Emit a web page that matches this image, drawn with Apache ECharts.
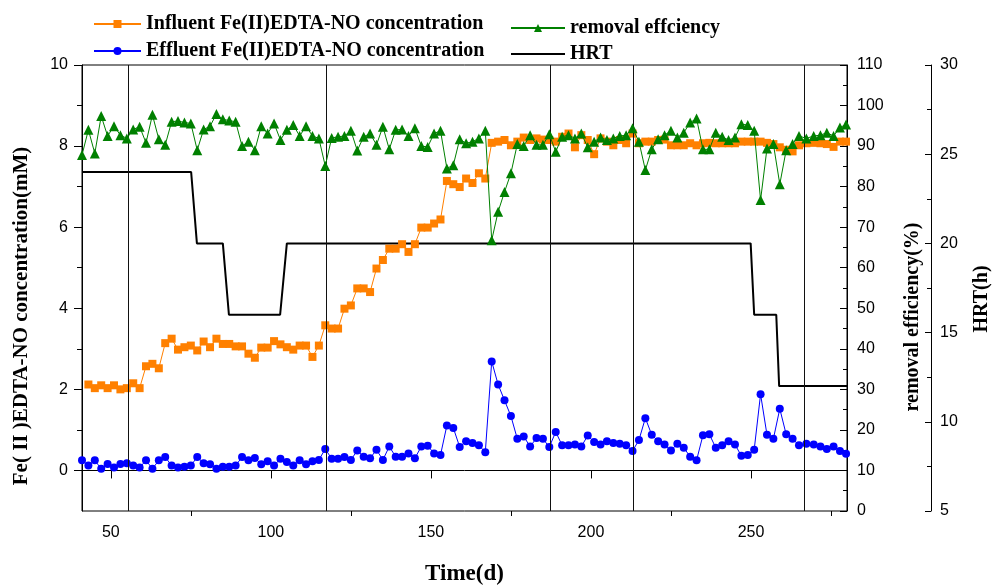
<!DOCTYPE html>
<html><head><meta charset="utf-8">
<script src="https://cdn.jsdelivr.net/npm/echarts@6/dist/echarts.min.js"></script>
<style>html,body{margin:0;padding:0;background:#fff}#c{width:992px;height:585px}</style>
</head><body><div id="c"></div>
<script>
const days = [41,43,45,47,49,51,53,55,57,59,
61,63,65,67,69,71,73,75,77,79,
81,83,85,87,89,91,93,95,97,99,
101,103,105,107,109,111,113,115,117,119,
121,123,125,127,129,131,133,135,137,139,
141,143,145,147,149,151,153,155,157,159,
161,163,165,167,169,171,173,175,177,179,
181,183,185,187,189,191,193,195,197,199,
201,203,205,207,209,211,213,215,217,219,
221,223,225,227,229,231,233,235,237,239,
241,243,245,247,249,251,253,255,257,259,
261,263,265,267.3,269.6,271.7,273.7,275.8,277.8,279.7];
const influent = [null,2.12,2.03,2.10,2.03,2.10,2.00,2.03,2.15,2.03,
2.57,2.63,2.52,3.14,3.25,2.98,3.04,3.08,2.96,3.18,
3.04,3.25,3.12,3.12,3.06,3.06,2.88,2.78,3.03,3.03,
3.19,3.11,3.04,2.98,3.08,3.08,2.80,3.08,3.58,3.50,
3.50,3.99,4.07,4.49,4.49,4.40,4.98,5.19,5.47,5.47,
5.58,5.39,5.58,5.99,5.99,6.09,6.19,7.14,7.06,6.99,
7.20,7.09,7.33,7.20,8.08,8.11,8.15,8.02,8.11,8.21,
8.15,8.19,8.16,8.15,8.11,8.23,8.31,7.97,8.27,8.15,
7.80,8.19,8.11,8.02,8.15,8.07,8.31,8.07,8.11,8.11,
8.15,8.16,8.02,8.02,8.02,8.07,8.02,8.07,8.08,8.07,
8.07,8.07,8.07,8.11,8.11,8.11,8.11,8.08,8.05,7.97,
7.91,7.87,8.02,8.07,8.08,8.07,8.05,7.98,8.11,8.11];
const effluent = [0.25,0.12,0.25,0.04,0.16,0.07,0.16,0.18,0.12,0.07,
0.25,0.04,0.25,0.33,0.12,0.07,0.09,0.12,0.33,0.18,
0.15,0.04,0.09,0.09,0.12,0.33,0.25,0.31,0.15,0.23,
0.12,0.29,0.21,0.12,0.25,0.15,0.23,0.26,0.53,0.29,
0.29,0.33,0.26,0.49,0.34,0.30,0.51,0.26,0.59,0.34,
0.34,0.42,0.30,0.59,0.61,0.42,0.38,1.11,1.05,0.58,
0.72,0.68,0.62,0.45,2.69,2.12,1.73,1.34,0.78,0.84,
0.59,0.80,0.78,0.58,0.95,0.62,0.62,0.64,0.59,0.86,
0.70,0.64,0.72,0.68,0.66,0.62,0.48,0.75,1.29,0.88,
0.72,0.64,0.49,0.66,0.56,0.34,0.25,0.87,0.89,0.56,
0.62,0.72,0.64,0.36,0.38,0.51,1.88,0.88,0.78,1.52,
0.89,0.78,0.62,0.66,0.64,0.59,0.53,0.59,0.48,0.41];
const removal = [87.8,94.0,88.2,97.4,92.5,94.9,92.7,91.9,94.1,94.8,
90.8,97.7,91.7,90.3,96.0,96.2,95.8,95.6,89.0,94.1,
94.9,97.9,96.6,96.3,96.0,90.0,91.1,89.0,94.9,93.1,
95.6,91.5,94.0,95.2,92.5,94.9,92.5,91.9,85.1,92.0,
92.3,92.5,93.8,88.9,92.3,93.1,90.3,94.8,89.2,94.0,
94.1,92.5,94.4,90.0,89.8,93.1,93.8,84.5,85.3,91.7,
90.7,91.1,91.9,93.8,66.8,73.8,78.7,83.3,90.5,90.0,
92.7,90.3,90.3,92.9,88.6,92.3,92.7,91.9,93.1,89.7,
91.1,92.1,91.5,91.9,92.5,92.7,94.4,91.1,84.1,89.2,
91.7,92.7,93.8,92.1,93.3,95.8,96.8,89.2,89.2,93.3,
92.3,91.5,92.1,95.4,95.2,93.8,76.7,89.4,90.5,80.6,
89.0,90.5,92.5,91.9,92.5,92.7,93.3,92.5,94.6,95.3];
const hrtDays = [41,75.1,76.9,85.0,86.9,102.9,105.0,249.9,251.0,257.9,258.8,280];
const hrtHours = [24,24,20,20,16,16,20,20,16,16,12,12];
const phaseBounds = [55.3,117.2,187.2,213.3,266.6];
const phaseNames = ['II','III','IV','V','VI','VII'];
const phaseLabelDays = [48.5,86.6,152.9,201.9,240.4,273.2];
const phaseLabelLevel = 9.55;
const xMajorTicks = [50,100,150,200,250];
const xMinorTicks = [75,125,175,225,275];
const yMajorTicks = [0,2,4,6,8,10];
const yMinorTicks = [1,3,5,7,9];

const NAME_IN = 'Influent Fe(II)EDTA-NO concentration';
const NAME_EFF = 'Effluent Fe(II)EDTA-NO concentration';
const NAME_REM = 'removal effciency';
const NAME_HRT = 'HRT';

const serif = 'Liberation Serif, Times New Roman, serif';
const sans = 'Liberation Sans, Arial, sans-serif';
const labelStyle = {fontFamily: sans, fontSize: 16, color: '#000'};
const titleStyle = {fontFamily: serif, fontWeight: 'bold', fontSize: 20, color: '#000'};
const legendText = {fontFamily: serif, fontWeight: 'bold', fontSize: 20, color: '#000'};
const blackLine = {lineStyle: {color: '#000', width: 1}};

const chart = echarts.init(document.getElementById('c'), null, {renderer: 'canvas'});
chart.setOption({
  animation: false,
  backgroundColor: '#fff',
  grid: {left: 82, right: 145, top: 65, bottom: 74, show: true, borderColor: '#000', borderWidth: 1,
         containLabel: false, outerBoundsMode: 'none'},
  legend: [
    {data: [NAME_IN, NAME_EFF], orient: 'vertical', left: 88, top: 9, itemGap: 7,
     itemWidth: 47, itemHeight: 10, textStyle: legendText},
    {data: [NAME_REM, {name: NAME_HRT, itemStyle: {opacity: 0}}], orient: 'vertical', left: 505, top: 13, itemGap: 6,
     itemWidth: 54, itemHeight: 10, textStyle: legendText}
  ],
  xAxis: [
    {type: 'value', min: 41, max: 280, position: 'bottom',
     axisLine: blackLine, splitLine: {show: false},
     axisTick: {length: 8, customValues: xMajorTicks, lineStyle: {color: '#000'}},
     axisLabel: Object.assign({customValues: xMajorTicks, margin: 14}, labelStyle),
     name: 'Time(d)', nameLocation: 'middle', nameGap: 52,
     nameTextStyle: {fontFamily: serif, fontWeight: 'bold', fontSize: 23, color: '#000'}},
    {type: 'value', min: 41, max: 280, position: 'bottom',
     axisLine: {show: false}, splitLine: {show: false}, axisLabel: {show: false},
     axisTick: {length: 5, customValues: xMinorTicks, lineStyle: {color: '#000'}}}
  ],
  yAxis: [
    {type: 'value', min: -1, max: 10, position: 'left',
     axisLine: {show: true, lineStyle: {color: '#000', width: 1}}, splitLine: {show: false},
     axisTick: {show: true, length: 8, customValues: yMajorTicks, lineStyle: {color: '#000'}},
     axisLabel: Object.assign({customValues: yMajorTicks, margin: 14}, labelStyle),
     name: 'Fe( II )EDTA-NO concentration(mM)', nameLocation: 'middle', nameGap: 50,
     nameTextStyle: Object.assign({}, titleStyle, {fontSize: 21, padding: [0, 56, 0, 0]})},
    {type: 'value', min: 0, max: 110, interval: 10, position: 'right',
     axisLine: {show: true, lineStyle: {color: '#000', width: 1}}, splitLine: {show: false},
     axisTick: {show: true, inside: true, length: 7, lineStyle: {color: '#000'}},
     minorTick: {show: true, splitNumber: 2, length: 4, lineStyle: {color: '#000'}},
     axisLabel: Object.assign({margin: 10}, labelStyle),
     name: 'removal efficiency(%)', nameLocation: 'middle', nameGap: 56,
     nameTextStyle: Object.assign({}, titleStyle, {padding: [0, 58, 0, 0]})},
    {type: 'value', min: 5, max: 30, interval: 5, position: 'right', offset: 84,
     axisLine: {show: true, lineStyle: {color: '#000', width: 1}}, splitLine: {show: false},
     axisTick: {show: true, inside: true, length: 6, lineStyle: {color: '#000'}},
     minorTick: {show: true, splitNumber: 2, length: 4, lineStyle: {color: '#000'}},
     axisLabel: Object.assign({margin: 9}, labelStyle),
     name: 'HRT(h)', nameLocation: 'middle', nameGap: 41,
     nameTextStyle: Object.assign({}, titleStyle, {padding: [0, 22, 0, 0]})},
    {type: 'value', min: -1, max: 10, position: 'left',
     axisLine: {show: false}, splitLine: {show: false}, axisLabel: {show: false},
     axisTick: {show: true, length: 5, customValues: yMinorTicks, lineStyle: {color: '#000'}}}
  ],
  series: [
    {name: NAME_HRT, type: 'line', xAxisIndex: 0, yAxisIndex: 2, z: 2,
     data: hrtDays.map((d, i) => [d, hrtHours[i]]),
     symbol: 'none', color: '#000', lineStyle: {color: '#000', width: 2},
     markLine: {silent: true, symbol: 'none', label: {show: false},
       lineStyle: {color: '#111', width: 1, type: 'solid'},
       data: phaseBounds.map(v => ({xAxis: v}))}},
    {name: NAME_IN, type: 'line', xAxisIndex: 0, yAxisIndex: 0, z: 3,
     data: days.map((d, i) => [d, influent[i]]),
     symbol: 'rect', symbolSize: 8, color: '#FF8000',
     itemStyle: {color: '#FF8000'}, lineStyle: {color: '#FF8000', width: 1}},
    {name: NAME_EFF, type: 'line', xAxisIndex: 0, yAxisIndex: 0, z: 4,
     data: days.map((d, i) => [d, effluent[i]]),
     symbol: 'circle', symbolSize: 8, color: '#0000FF',
     itemStyle: {color: '#0000FF'}, lineStyle: {color: '#0000FF', width: 1}},
    {name: NAME_REM, type: 'line', xAxisIndex: 0, yAxisIndex: 1, z: 5,
     data: days.map((d, i) => [d, removal[i]]),
     symbol: 'triangle', symbolSize: 10, color: '#008000',
     itemStyle: {color: '#008000'}, lineStyle: {color: '#008000', width: 1}},
    {name: 'phases', type: 'scatter', xAxisIndex: 0, yAxisIndex: 0, z: 6,
     data: phaseNames.map((n, i) => ({name: n, value: [phaseLabelDays[i], phaseLabelLevel]})),
     symbolSize: 1, itemStyle: {opacity: 0},
     label: {show: true, position: 'inside', formatter: p => p.name,
       fontFamily: serif, fontSize: 24, color: '#222'}}
  ]
});
</script>
</body></html>
